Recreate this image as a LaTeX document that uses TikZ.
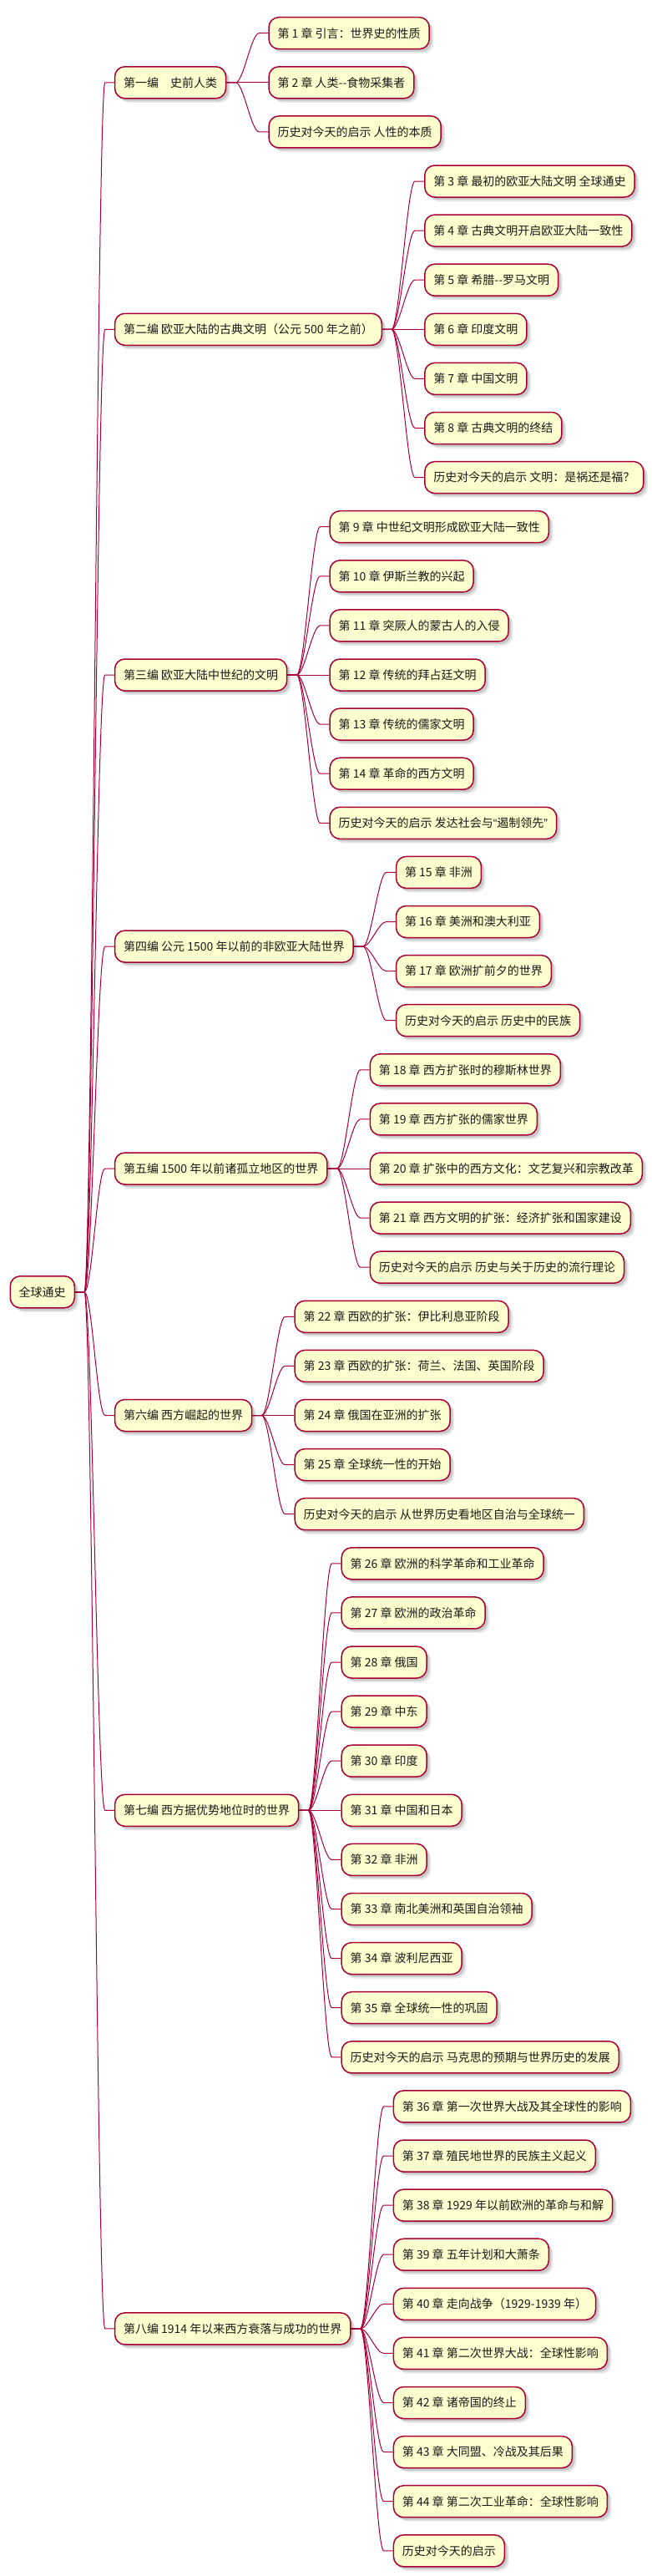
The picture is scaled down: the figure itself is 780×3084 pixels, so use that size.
\documentclass[tikz,border=0pt]{standalone}
\usepackage{fontspec}
\setmainfont{Noto Sans CJK SC}
\newfontfamily\latq{Liberation Sans}
\usetikzlibrary{calc,shadows,backgrounds}
\definecolor{pfill}{HTML}{FEFECE}
\definecolor{pline}{HTML}{A80036}
\newcommand\mmconn[2]{%
  \begin{pgfonlayer}{background}
  \draw[mmline] (#1.east) -- ($(#1.east)+(11,0)$) .. controls ($(#1.east)+(20.3,0)$) and ($(#2.west)+(-20.3,0)$) .. ($(#2.west)+(-11,0)$) -- (#2.west);
  \end{pgfonlayer}}
\newcommand\mmgroup[3]{%
  \foreach \txt [count=\i from 0] in {#3} {%
    \node[mmbox] (#1-\i) at ([xshift=50pt,yshift={59.1*(#2-\i)}]#1.east) {\txt};
    \mmconn{#1}{#1-\i}
  }}
\begin{document}
\begin{tikzpicture}[x=1pt,y=1pt,
  mmbox/.style={draw=pline, line width=1.5pt, fill=pfill, rounded corners=12pt,
    minimum height=38pt, inner xsep=10.5pt, inner ysep=0pt,
    text height=10.6pt, text depth=0pt, font=\fontsize{14}{16}\selectfont,
    text=black!90, anchor=west,
    drop shadow={shadow xshift=3pt,shadow yshift=-3pt,fill=black,opacity=.13},
    drop shadow={shadow xshift=5pt,shadow yshift=-5pt,fill=black,opacity=.10}},
  mmline/.style={draw=pline, line width=1pt}]
\useasboundingbox (0,0) rectangle (780,-3084);
\begin{pgfonlayer}{background}
\fill[white] (0,0) rectangle (780,-3084);
\end{pgfonlayer}

\node[mmbox] (root) at (11.5,-1546.75) {全球通史};

\node[mmbox] (p1) at (136.8,-98.8) {第一编　史前人类};
\node[mmbox] (p2) at (136.8,-394.3) {第二编 欧亚大陆的古典文明（公元 500 年之前）};
\node[mmbox] (p3) at (136.8,-808.0) {第三编 欧亚大陆中世纪的文明};
\node[mmbox] (p4) at (136.8,-1133.05) {第四编 公元 1500 年以前的非欧亚大陆世界};
\node[mmbox] (p5) at (136.8,-1399.0) {第五编 1500 年以前诸孤立地区的世界};
\node[mmbox] (p6) at (136.8,-1694.5) {第六编 西方崛起的世界};
\node[mmbox] (p7) at (136.8,-2167.3) {第七编 西方据优势地位时的世界};
\node[mmbox] (p8) at (136.8,-2787.85) {第八编 1914 年以来西方衰落与成功的世界};

\foreach \p in {p1,p2,p3,p4,p5,p6,p7,p8} {\mmconn{root}{\p}}

\mmgroup{p1}{1}{{第 1 章 引言：世界史的性质},{第 2 章 人类-{}-食物采集者},{历史对今天的启示 人性的本质}}

\mmgroup{p2}{3}{{第 3 章 最初的欧亚大陆文明 全球通史},{第 4 章 古典文明开启欧亚大陆一致性},{第 5 章 希腊-{}-罗马文明},{第 6 章 印度文明},{第 7 章 中国文明},{第 8 章 古典文明的终结},{历史对今天的启示 文明：是祸还是福？}}

\mmgroup{p3}{3}{{第 9 章 中世纪文明形成欧亚大陆一致性},{第 10 章 伊斯兰教的兴起},{第 11 章 突厥人的蒙古人的入侵},{第 12 章 传统的拜占廷文明},{第 13 章 传统的儒家文明},{第 14 章 革命的西方文明},{历史对今天的启示 发达社会与{\latq “}遏制领先{\latq ”}}}

\mmgroup{p4}{1.5}{{第 15 章 非洲},{第 16 章 美洲和澳大利亚},{第 17 章 欧洲扩前夕的世界},{历史对今天的启示 历史中的民族}}

\mmgroup{p5}{2}{{第 18 章 西方扩张时的穆斯林世界},{第 19 章 西方扩张的儒家世界},{第 20 章 扩张中的西方文化：文艺复兴和宗教改革},{第 21 章 西方文明的扩张：经济扩张和国家建设},{历史对今天的启示 历史与关于历史的流行理论}}

\mmgroup{p6}{2}{{第 22 章 西欧的扩张：伊比利息亚阶段},{第 23 章 西欧的扩张：荷兰、法国、英国阶段},{第 24 章 俄国在亚洲的扩张},{第 25 章 全球统一性的开始},{历史对今天的启示 从世界历史看地区自治与全球统一}}

\mmgroup{p7}{5}{{第 26 章 欧洲的科学革命和工业革命},{第 27 章 欧洲的政治革命},{第 28 章 俄国},{第 29 章 中东},{第 30 章 印度},{第 31 章 中国和日本},{第 32 章 非洲},{第 33 章 南北美洲和英国自治领袖},{第 34 章 波利尼西亚},{第 35 章 全球统一性的巩固},{历史对今天的启示 马克思的预期与世界历史的发展}}

\mmgroup{p8}{4.5}{{第 36 章 第一次世界大战及其全球性的影响},{第 37 章 殖民地世界的民族主义起义},{第 38 章 1929 年以前欧洲的革命与和解},{第 39 章 五年计划和大萧条},{第 40 章 走向战争（1929-1939 年）},{第 41 章 第二次世界大战：全球性影响},{第 42 章 诸帝国的终止},{第 43 章 大同盟、冷战及其后果},{第 44 章 第二次工业革命：全球性影响},{历史对今天的启示}}
\end{tikzpicture}
\end{document}
